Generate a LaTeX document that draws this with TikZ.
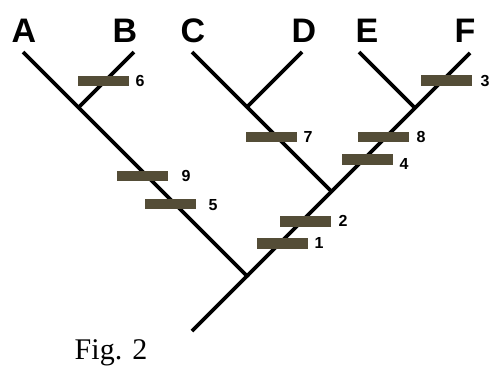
\documentclass[tikz,border=0pt]{standalone}
\usepackage{fontspec}
\setmainfont{Liberation Serif}
\newfontfamily\arialb{Liberation Sans}[BoldFont={* Bold}]
\definecolor{barcol}{RGB}{84,77,55}
\begin{document}
\begin{tikzpicture}[x=1pt,y=-1pt,
  branch/.style={line width=3.8pt, line join=miter},
  bar/.style={rectangle, fill=barcol, minimum width=51pt, minimum height=10.5pt, inner sep=0pt},
  taxon/.style={font=\arialb\bfseries\fontsize{34}{40}\selectfont, inner sep=0pt},
  num/.style={font=\arialb\bfseries\fontsize{16}{19}\selectfont, inner sep=0pt}]
\useasboundingbox (0,0) rectangle (489,370);
% taxa labels
\node[taxon] (A) at (24,31) {A};
\node[taxon] (B) at (125,31) {B};
\node[taxon] (C) at (193,31) {C};
\node[taxon] (D) at (304,31) {D};
\node[taxon] (E) at (367,31) {E};
\node[taxon] (F) at (465,31) {F};
% tips and junctions
\coordinate (tA) at (23,52);
\coordinate (tB) at (134,52);
\coordinate (tC) at (192,52);
\coordinate (tD) at (302,52);
\coordinate (tE) at (359,52);
\coordinate (tF) at (470,53);
\coordinate (jAB) at (78.5,107.5);
\coordinate (jCD) at (247,107);
\coordinate (jEF) at (415,108);
\coordinate (jCF) at (331.5,191.5);
\coordinate (root) at (247,276);
\coordinate (base) at (192,331);
% branches
\draw[branch] (tA) -- (root) -- (base);
\draw[branch] (tB) -- (jAB);
\draw[branch] (tC) -- (jCF);
\draw[branch] (tD) -- (jCD);
\draw[branch] (tE) -- (jEF);
\draw[branch] (tF) -- (root);
% character bars
\node[bar] (b6) at (103.5,81) {};
\node[bar] (b9) at (142,176) {};
\node[bar] (b5) at (170.5,204) {};
\node[bar] (b7) at (271.5,137) {};
\node[bar] (b8) at (383.5,137) {};
\node[bar] (b4) at (367,159.5) {};
\node[bar] (b3) at (446,80.5) {};
\node[bar] (b2) at (305.5,221.5) {};
\node[bar] (b1) at (282.5,243.5) {};
% numbers
\node[num] (n6) at (140,81) {6};
\node[num] (n9) at (186,176) {9};
\node[num] (n5) at (213,205) {5};
\node[num] (n7) at (308,137) {7};
\node[num] (n8) at (421,137) {8};
\node[num] (n4) at (404,164) {4};
\node[num] (n3) at (485,81) {3};
\node[num] (n2) at (343,221) {2};
\node[num] (n1) at (319,243) {1};
% caption
\node[font=\fontsize{30}{36}\selectfont, inner sep=0pt] (cap) at (111,353) {Fig. 2};
\end{tikzpicture}
\end{document}
